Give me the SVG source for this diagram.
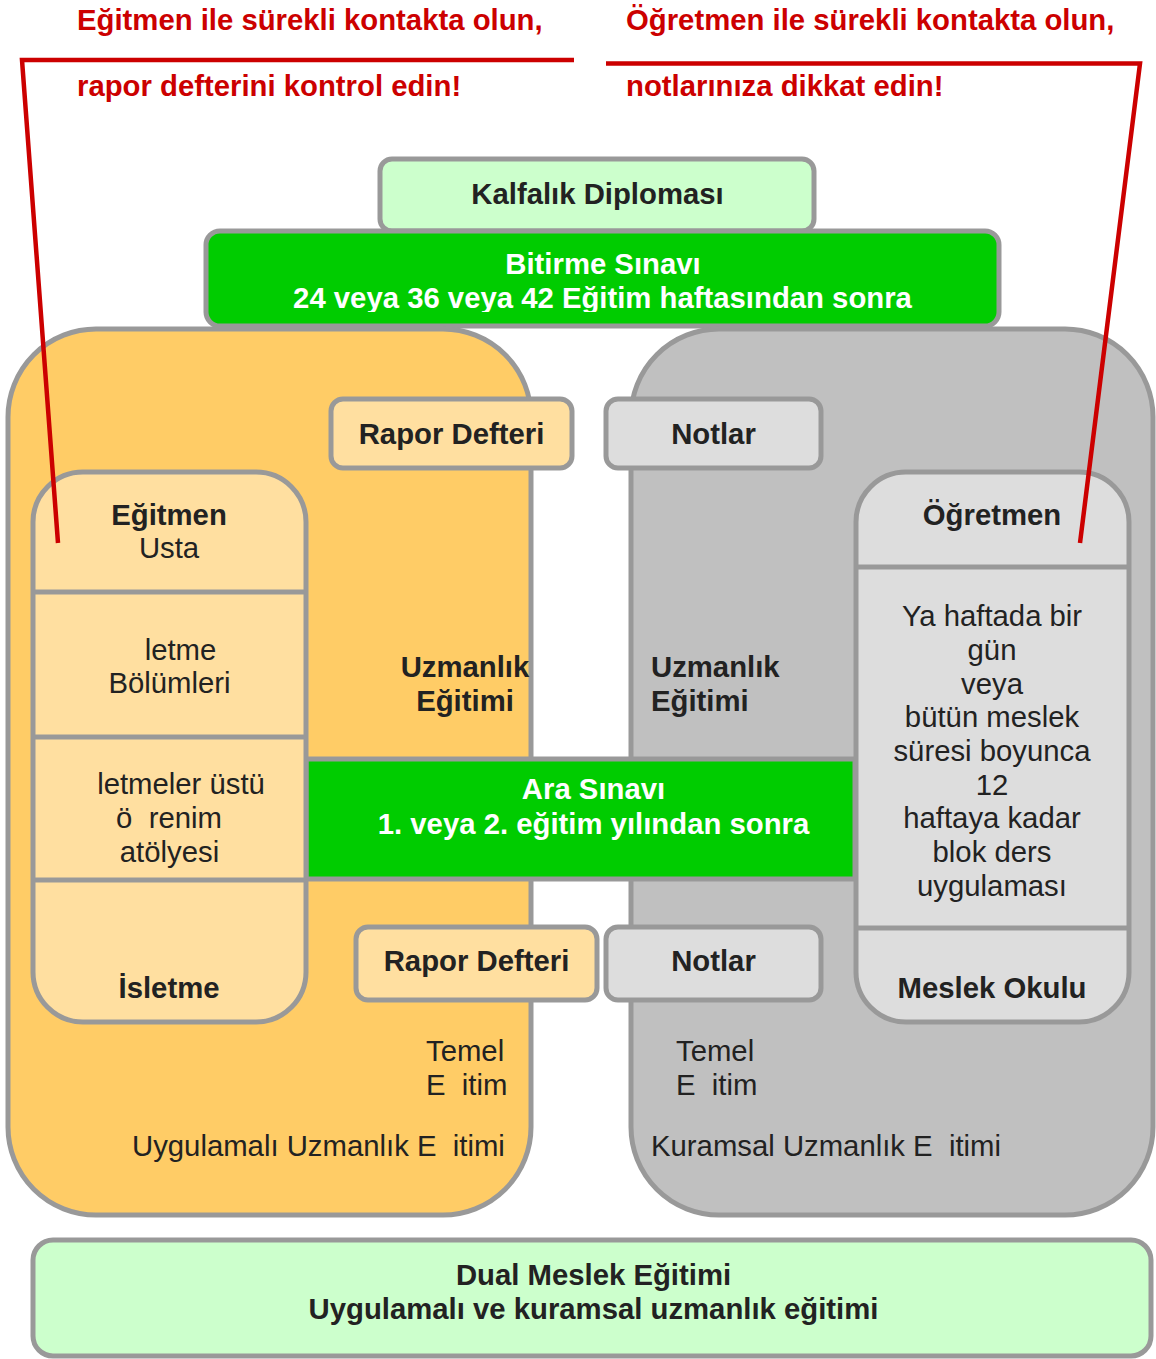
<svg xmlns="http://www.w3.org/2000/svg" width="1156" height="1359" viewBox="0 0 1156 1359">
<style>
  .box { stroke: #999999; stroke-width: 5; }
  .div { stroke: #999999; stroke-width: 5; }
  .b { font-family: "Liberation Sans", Arial, sans-serif; font-weight: bold; font-size: 29.3px; fill: #222222; }
  .r { font-family: "Liberation Sans", Arial, sans-serif; font-size: 29.3px; fill: #222222; white-space: pre; }
  .w { font-family: "Liberation Sans", Arial, sans-serif; font-weight: bold; font-size: 29.3px; fill: #FFFFFF; }
  .red { font-family: "Liberation Sans", Arial, sans-serif; font-weight: bold; font-size: 29.3px; fill: #CC0000; }
  .c { text-anchor: middle; }
  .conn { fill: none; stroke: #CC0000; stroke-width: 4.5; }
</style>
<defs>
  <clipPath id="bitClip"><rect x="200" y="225" width="810" height="87"/></clipPath>
</defs>
<rect x="0" y="0" width="1156" height="1359" fill="#FFFFFF"/>

<g id="notes">
  <text class="red" x="77" y="30">Eğitmen ile sürekli kontakta olun,</text>
  <text class="red" x="77" y="96">rapor defterini kontrol edin!</text>
  <text class="red" x="626" y="30">Öğretmen ile sürekli kontakta olun,</text>
  <text class="red" x="626" y="96">notlarınıza dikkat edin!</text>
</g>

<g id="kalfalik">
  <rect class="box" x="380" y="159" width="434" height="72" rx="12" fill="#CCFFCC"/>
  <text class="b c" x="597.5" y="204">Kalfalık Diploması</text>
</g>

<g id="bitirme">
  <rect class="box" x="206" y="231" width="793" height="95" rx="14" fill="#00CC00"/>
  <g clip-path="url(#bitClip)">
    <text class="w c" x="603" y="274">Bitirme Sınavı</text>
    <text class="w c" x="602.5" y="308">24 veya 36 veya 42 Eğitim haftasından sonra</text>
  </g>
</g>

<g id="uygulamali">
  <rect class="box" x="8" y="329" width="523" height="886" rx="88" fill="#FFCC66"/>
  <text class="b c" x="465" y="677">Uzmanlık</text>
  <text class="b c" x="465" y="711">Eğitimi</text>
  <text class="r" x="426" y="1061">Temel</text>
  <text class="r" x="426" y="1095">E  itim</text>
  <text class="r" x="132" y="1156">Uygulamalı Uzmanlık E  itimi</text>
</g>

<g id="kuramsal">
  <rect class="box" x="631" y="329" width="522" height="886" rx="88" fill="#C0C0C0"/>
  <text class="b" x="651" y="677">Uzmanlık</text>
  <text class="b" x="651" y="711">Eğitimi</text>
  <text class="r" x="676" y="1061">Temel</text>
  <text class="r" x="676" y="1095">E  itim</text>
  <text class="r" x="651" y="1156">Kuramsal Uzmanlık E  itimi</text>
</g>

<g id="ara-sinavi">
  <rect class="box" x="306" y="759" width="549" height="120" fill="#00CC00"/>
  <text class="w c" x="593.5" y="799">Ara Sınavı</text>
  <text class="w c" x="593.5" y="834">1. veya 2. eğitim yılından sonra</text>
</g>

<g id="isletme">
  <rect class="box" x="33" y="472" width="273" height="550" rx="50" fill="#FFDFA0"/>
  <line class="div" x1="33" y1="592" x2="306" y2="592"/>
  <line class="div" x1="33" y1="737" x2="306" y2="737"/>
  <line class="div" x1="33" y1="880" x2="306" y2="880"/>
  <text class="b c" x="169" y="525">Eğitmen</text>
  <text class="r c" x="169" y="558">Usta</text>
  <text class="r c" x="180.5" y="660">letme</text>
  <text class="r c" x="169.5" y="693">Bölümleri</text>
  <text class="r c" x="181" y="794">letmeler üstü</text>
  <text class="r c" x="169" y="828">ö  renim</text>
  <text class="r c" x="169.5" y="862">atölyesi</text>
  <text class="b c" x="169" y="998">İsletme</text>
</g>

<g id="meslek-okulu">
  <rect class="box" x="856" y="472" width="273" height="550" rx="50" fill="#DDDDDD"/>
  <line class="div" x1="856" y1="567" x2="1129" y2="567"/>
  <line class="div" x1="856" y1="928" x2="1129" y2="928"/>
  <text class="b c" x="992" y="525">Öğretmen</text>
  <text class="r c" x="992" y="626">Ya haftada bir</text>
  <text class="r c" x="992" y="660">gün</text>
  <text class="r c" x="992" y="694">veya</text>
  <text class="r c" x="992" y="727">bütün meslek</text>
  <text class="r c" x="992" y="761">süresi boyunca</text>
  <text class="r c" x="992" y="795">12</text>
  <text class="r c" x="992" y="828">haftaya kadar</text>
  <text class="r c" x="992" y="862">blok ders</text>
  <text class="r c" x="992" y="896">uygulaması</text>
  <text class="b c" x="992" y="998">Meslek Okulu</text>
</g>

<g id="rapor-defteri-1">
  <rect class="box" x="331" y="399" width="241" height="69" rx="12" fill="#FFDFA0"/>
  <text class="b c" x="451.5" y="444">Rapor Defteri</text>
</g>
<g id="notlar-1">
  <rect class="box" x="606" y="399" width="215" height="69" rx="12" fill="#DDDDDD"/>
  <text class="b c" x="713.5" y="444">Notlar</text>
</g>
<g id="rapor-defteri-2">
  <rect class="box" x="356" y="927" width="241" height="73" rx="12" fill="#FFDFA0"/>
  <text class="b c" x="476.5" y="971">Rapor Defteri</text>
</g>
<g id="notlar-2">
  <rect class="box" x="606" y="927" width="215" height="73" rx="12" fill="#DDDDDD"/>
  <text class="b c" x="713.5" y="971">Notlar</text>
</g>

<g id="dual">
  <rect class="box" x="33" y="1240" width="1118" height="116" rx="20" fill="#CCFFCC"/>
  <text class="b c" x="593.5" y="1285">Dual Meslek Eğitimi</text>
  <text class="b c" x="593.5" y="1319">Uygulamalı ve kuramsal uzmanlık eğitimi</text>
</g>

<g id="connectors">
  <polyline class="conn" points="574,60 22,60 58,543"/>
  <polyline class="conn" points="606,63.5 1140,63.5 1080,543"/>
</g>
</svg>
